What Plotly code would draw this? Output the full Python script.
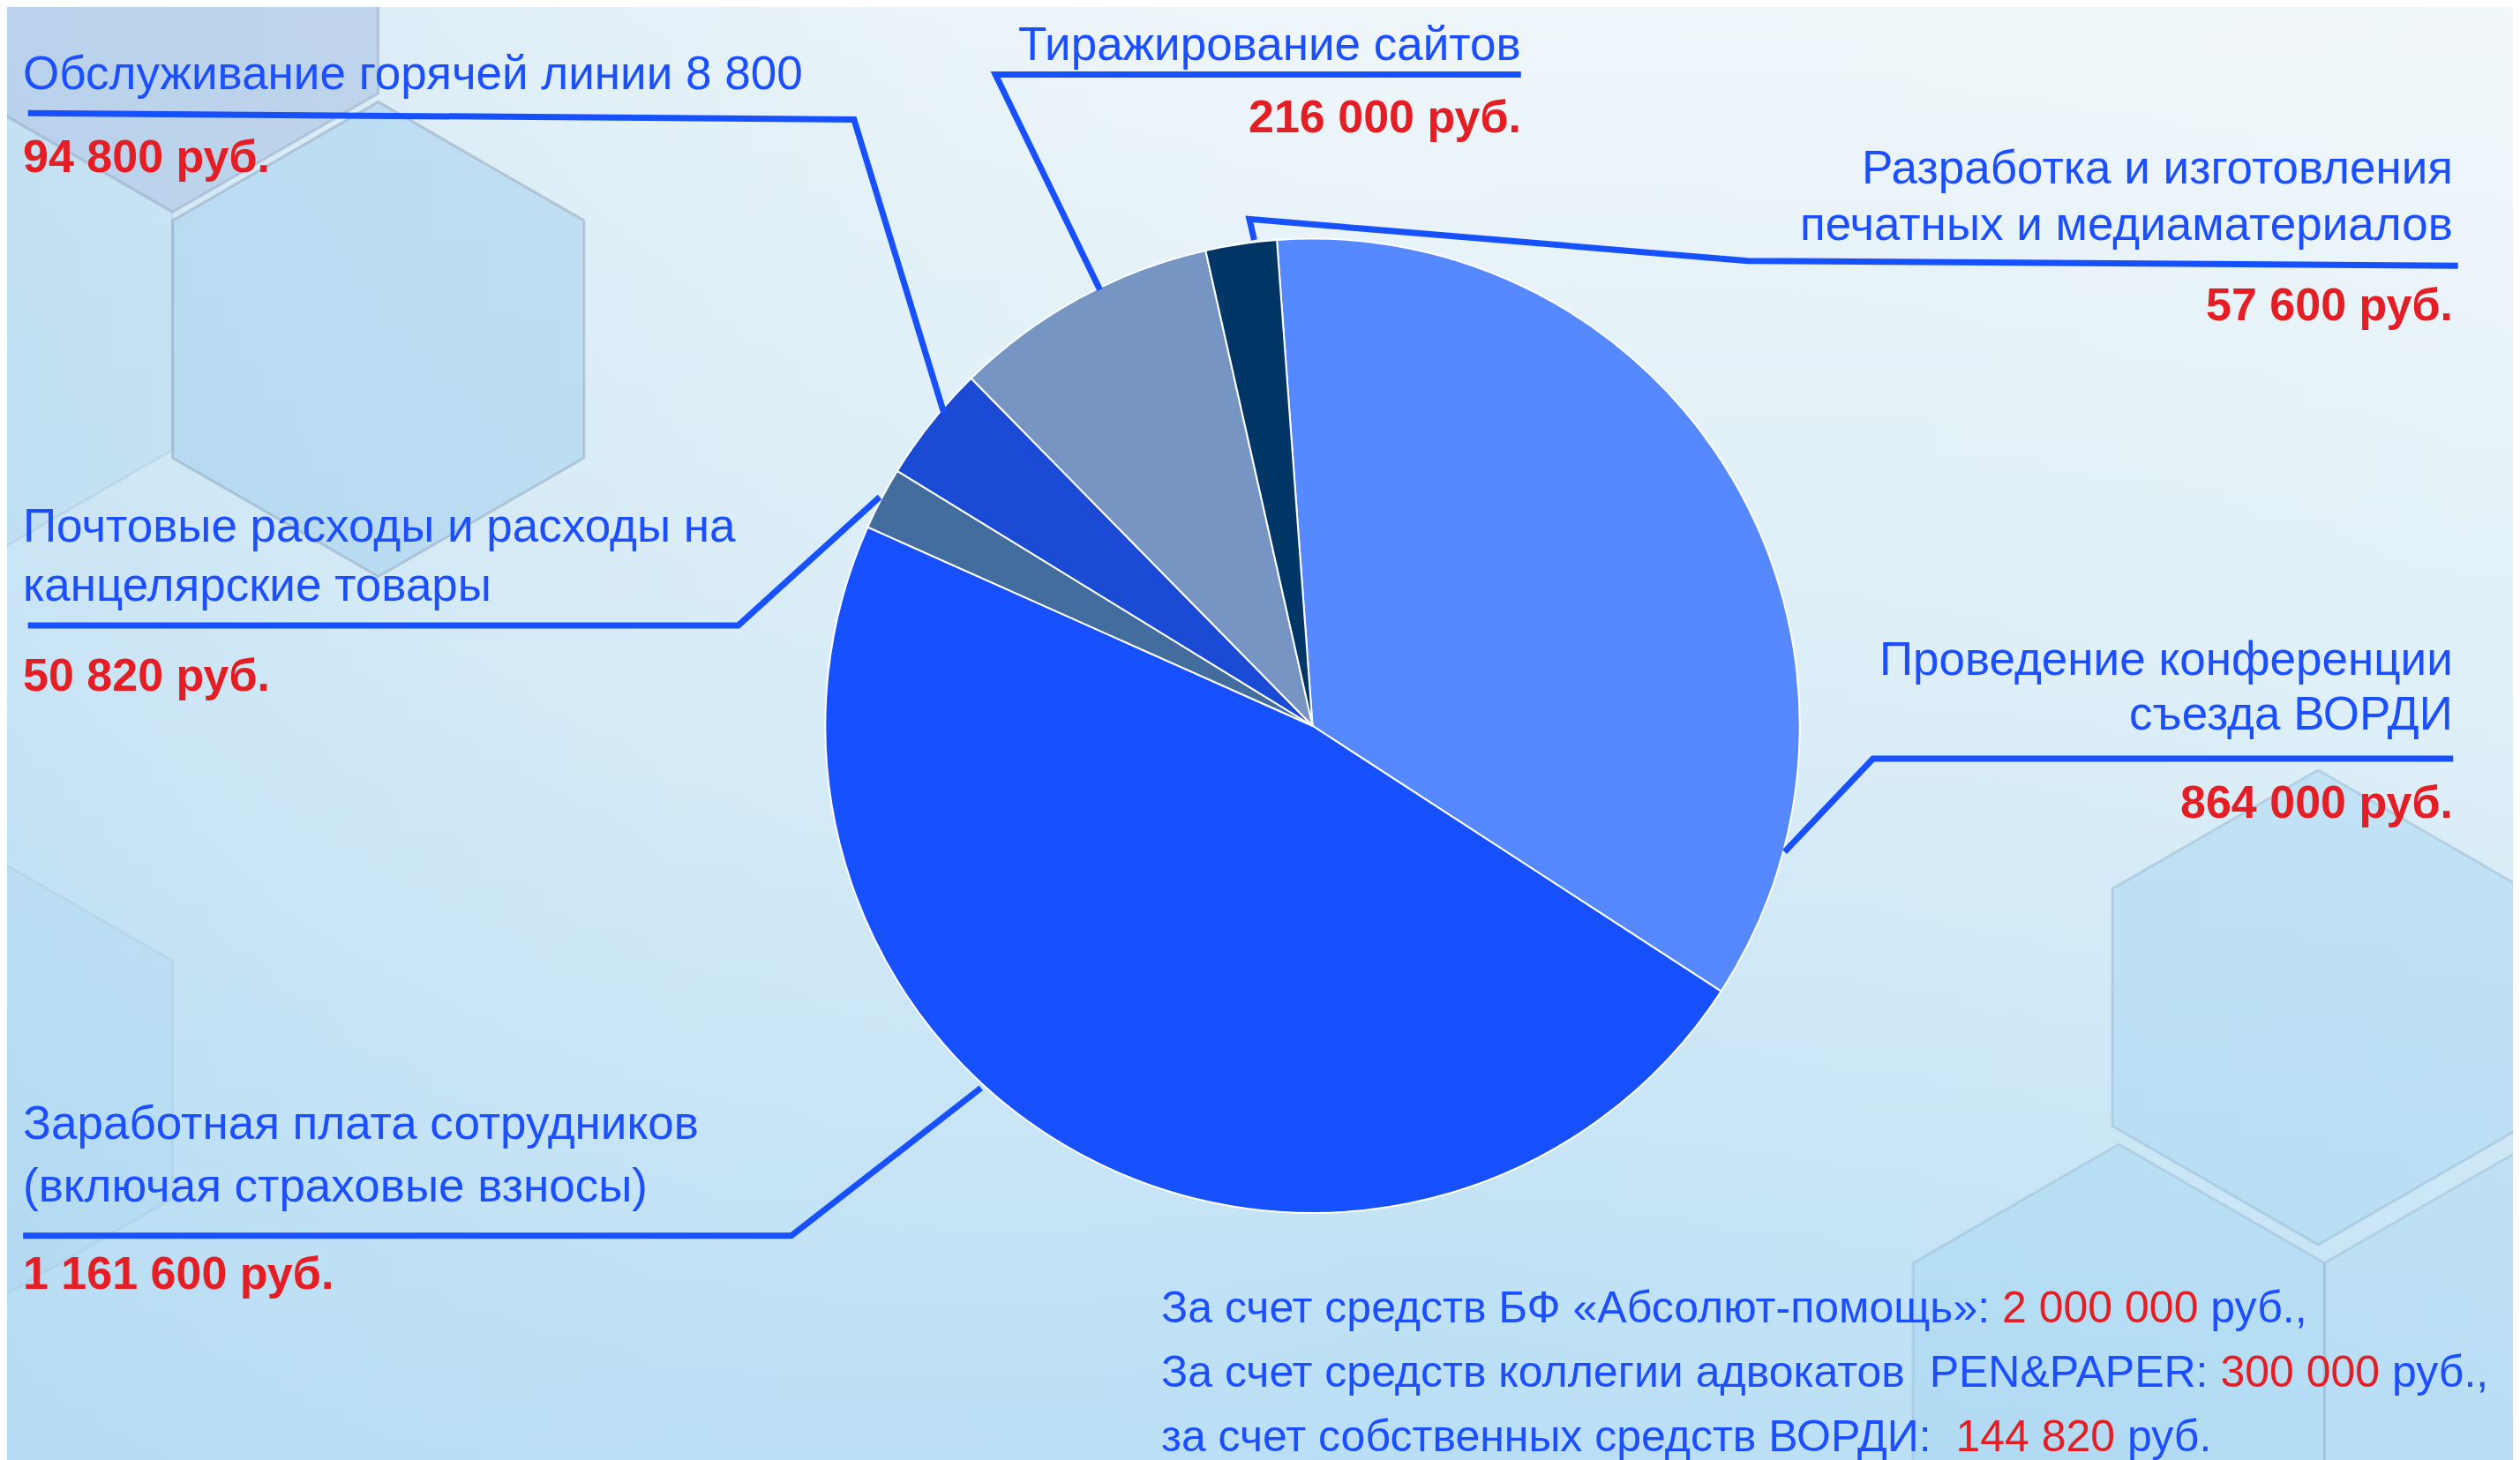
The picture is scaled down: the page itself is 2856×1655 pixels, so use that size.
import plotly.graph_objects as go

# chart data
labels = [
    "Проведение конференции съезда ВОРДИ",
    "Заработная плата сотрудников (включая страховые взносы)",
    "Почтовые расходы и расходы на канцелярские товары",
    "Обслуживание горячей линии 8 800",
    "Тиражирование сайтов",
    "Разработка и изготовления печатных и медиаматериалов",
]
values = [864000, 1161600, 50820, 94800, 216000, 57600]
colors = ["#5688FF", "#1650FF", "#426D9E", "#1B4BD4", "#7795C3", "#003666"]

funding_sources = [
    "За счет средств БФ «Абсолют-помощь»: ",
    "За счет средств коллегии адвокатов  PEN&PAPER: ",
    "за счет собственных средств ВОРДИ:  ",
]
funding_values = ["2 000 000", "300 000", "144 820"]

W, H = 2856, 1655
SX, SY = 1568, 909  # working coordinate grid
K = W / SX

BLUE = "#1C4FFF"
RED = "#E31E24"
FONT = "Liberation Sans Narrow, Arial Narrow, Liberation Sans, Arial, sans-serif"


def rub(v):
    return f"{v:,}".replace(",", " ") + " руб."


fig = go.Figure()

# background
fig.add_trace(go.Scatter(
    x=[0, SX, SX, 0, 0], y=[0, 0, SY, SY, 0], mode="lines", fill="toself",
    line_width=0, hoverinfo="skip", showlegend=False,
    fillgradient=dict(type="vertical", start=0, stop=SY,
                      colorscale=[[0, "#EFF6F9"], [0.45, "#DCEEF7"], [1, "#B8DEF5"]]),
))
fig.add_trace(go.Scatter(
    x=[0, SX, SX, 0, 0], y=[0, 0, SY, SY, 0], mode="lines", fill="toself",
    line_width=0, hoverinfo="skip", showlegend=False,
    fillgradient=dict(type="horizontal", start=0, stop=SX,
                      colorscale=[[0, "rgba(175,215,242,0.45)"], [0.55, "rgba(220,238,248,0)"],
                                  [1, "rgba(255,255,255,0.15)"]]),
))


def hexagon(cx, top, w=256):
    s = w / 3 ** 0.5
    xs = [cx, cx + w / 2, cx + w / 2, cx, cx - w / 2, cx - w / 2, cx]
    ys = [top, top + s / 2, top + 1.5 * s, top + 2 * s, top + 1.5 * s, top + s / 2, top]
    return xs, ys


hexes = [
    (103, -168, "rgba(165,192,225,0.55)", "rgba(150,170,195,0.5)"),
    (-25, 54, "rgba(175,215,242,0.35)", "rgba(150,180,205,0.25)"),
    (231, 59, "rgba(160,205,238,0.5)", "rgba(150,170,190,0.55)"),
    (-25, 520, "rgba(165,210,240,0.25)", "rgba(150,180,205,0.2)"),
    (1438, 475, "rgba(165,212,242,0.45)", "rgba(150,180,205,0.45)"),
    (1314, 708, "rgba(165,212,242,0.45)", "rgba(150,180,205,0.4)"),
    (1570, 708, "rgba(165,212,242,0.35)", "rgba(150,180,205,0.4)"),
]
for cx, top, fc, lc in hexes:
    xs, ys = hexagon(cx, top)
    fig.add_trace(go.Scatter(
        x=xs, y=ys, mode="lines", fill="toself", fillcolor=fc,
        line=dict(color=lc, width=3),
        hoverinfo="skip", showlegend=False,
    ))

fig.add_trace(go.Pie(
    labels=labels, values=values, sort=False, direction="clockwise",
    rotation=-4.2, textinfo="none", showlegend=False,
    marker=dict(colors=colors, line=dict(color="white", width=2)),
    domain=dict(x=[(812.3 - 303.3) / SX, (812.3 + 303.3) / SX],
                y=[(461.5 - 303.3) / SY, (461.5 + 303.3) / SY]),
    hovertemplate="%{label}: %{value:,} руб.<extra></extra>",
))

# leader lines
leaders = [
    [(13, 66), (527, 70), (583, 253)],
    [(942, 42), (615, 42), (680, 176)],
    [(1525, 161), (1083, 158), (773, 132), (776, 145)],
    [(1522, 468), (1161, 468), (1106, 526)],
    [(13, 385), (455, 385), (543, 305)],
    [(10, 765), (488, 765), (606, 673)],
]
for pts in leaders:
    path = "M " + " L ".join(f"{x},{y}" for x, y in pts)
    fig.add_shape(type="path", path=path, xref="x", yref="y",
                  line=dict(color="#1650FF", width=7))


def text(x, y, s, anchor="left", color=BLUE, size=53, bold=False):
    # y is the baseline in working coords
    fs = size / K
    x = x - 4 if anchor == "left" else x + 1
    fig.add_annotation(
        x=x, y=y - 0.49 * fs, xref="x", yref="y", text=f"<b>{s}</b>" if bold else s,
        showarrow=False, xanchor=anchor, yanchor="middle",
        font=dict(family=FONT, size=size, color=color),
    )


# label texts: (x, anchor, [(baseline, line)], value baseline)
blocks = [
    (13, "left", [(55, "Обслуживание горячей линии 8 800")], 107, values[3]),
    (942, "right", [(37, "Тиражирование сайтов")], 82, values[4]),
    (1522, "right", [(114, "Разработка и изготовления"),
                     (149, "печатных и медиаматериалов")], 199, values[5]),
    (1522, "right", [(420, "Проведение конференции"),
                     (454, "съезда ВОРДИ")], 509, values[0]),
    (13, "left", [(337, "Почтовые расходы и расходы на"),
                  (374, "канцелярские товары")], 430, values[2]),
    (13, "left", [(709, "Заработная плата сотрудников"),
                  (748, "(включая страховые взносы)")], 802, values[1]),
]
for x, anchor, lines, vy, v in blocks:
    for by, s in lines:
        text(x, by, s, anchor)
    text(x, vy, rub(v), anchor, color=RED, size=52, bold=True)

for i, (src, val) in enumerate(zip(funding_sources, funding_values)):
    tail = " руб.," if i < 2 else " руб."
    text(721, 823 + i * 40, f"{src}<span style='color:{RED}'>{val}</span>{tail}", size=50)

fig.update_layout(
    width=W, height=H, margin=dict(l=0, r=0, t=0, b=0),
    paper_bgcolor="#DCEEF7", plot_bgcolor="rgba(0,0,0,0)",
    xaxis=dict(range=[0, SX], visible=False, fixedrange=True, domain=[0, 1]),
    yaxis=dict(range=[SY, 0], visible=False, fixedrange=True, domain=[0, 1]),
    showlegend=False,
)

fig.write_html("out.html")
